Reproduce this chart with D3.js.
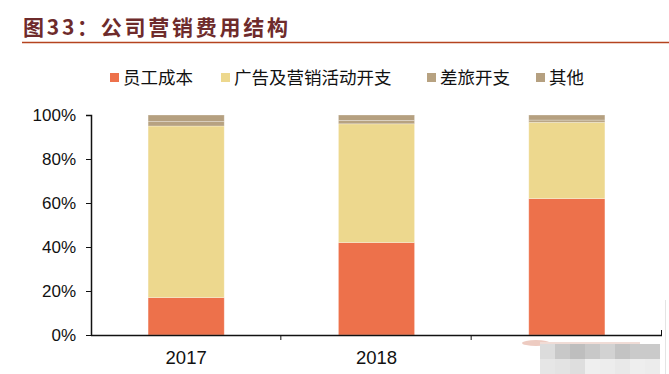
<!DOCTYPE html>
<html>
<head>
<meta charset="utf-8">
<script src="https://cdn.jsdelivr.net/npm/d3@7/dist/d3.min.js"></script>
<style>
  html, body { margin: 0; padding: 0; background: #fff; }
  svg { display: block; }
</style>
</head>
<body>
<svg id="chart" width="669" height="374"></svg>
<script>
// chart data (percent of marketing expense)
var years = ['2017', '2018', '2019'];
var seriesNames = ['员工成本', '广告及营销活动开支', '差旅开支', '其他'];
var staffCost = [17, 42, 62];
var adCost = [78, 54, 34.7];
var travelCost = [2, 1.5, 1];
var otherCost = [3, 2.5, 2.3];
var yTicks = [0, 20, 40, 60, 80, 100];

var colors = ['#ED714B', '#EDD88E', '#B7A281', '#B5A080'];

var svg = d3.select('#chart');
var margin = {left: 91, right: 7, top: 115, bottom: 39};
var width = 669 - margin.left - margin.right;
var height = 374 - margin.top - margin.bottom;

// title + rule
svg.append('text')
  .attr('x', 23)
  .attr('y', 35)
  .attr('textLength', 265)
  .attr('lengthAdjust', 'spacing')
  .style('font-family', '"Noto Sans CJK SC", sans-serif')
  .style('font-weight', 'bold')
  .style('font-size', '21px')
  .style('fill', '#6E2B2B')
  .text('图33：公司营销费用结构');

svg.append('line')
  .attr('x1', 22).attr('x2', 669)
  .attr('y1', 42.5).attr('y2', 42.5)
  .attr('stroke', '#B5431F')
  .attr('stroke-width', 1.3);

// legend
var legendX = [110, 221, 427, 536];
var legend = svg.append('g').selectAll('g')
  .data(seriesNames)
  .enter()
  .append('g')
  .attr('transform', function(d, i) { return 'translate(' + legendX[i] + ',78)'; });

legend.append('rect')
  .attr('x', 0).attr('y', -5)
  .attr('width', 9).attr('height', 9)
  .attr('fill', function(d, i) { return colors[i]; });

legend.append('text')
  .attr('x', 13)
  .attr('y', 6)
  .style('font-family', '"Noto Sans CJK SC", sans-serif')
  .style('font-size', '17.5px')
  .style('fill', '#111')
  .text(function(d) { return d; });

// stack the series
var rows = years.map(function(y, i) {
  return {year: y, s0: staffCost[i], s1: adCost[i], s2: travelCost[i], s3: otherCost[i]};
});
var stack = d3.stack().keys(['s0', 's1', 's2', 's3']);
var layers = stack(rows);

var g = svg.append('g')
  .attr('transform', 'translate(' + margin.left + ',' + margin.top + ')');

var x = d3.scaleBand()
  .domain(years)
  .range([0, width])
  .paddingInner(0.6)
  .paddingOuter(0.3);

var y = d3.scaleLinear()
  .domain([0, 100])
  .range([height, 0]);

g.selectAll('g.layer')
  .data(layers)
  .enter()
  .append('g')
  .attr('class', 'layer')
  .attr('fill', function(d, i) { return colors[i]; })
  .selectAll('rect')
  .data(function(d) { return d; })
  .enter()
  .append('rect')
  .attr('x', function(d) { return x(d.data.year); })
  .attr('width', x.bandwidth())
  .attr('y', function(d) { return y(d[1]); })
  .attr('height', function(d) { return y(d[0]) - y(d[1]); })
  .attr('stroke', 'rgba(255,255,255,0.35)')
  .attr('stroke-width', 0.8);

// y axis
var yAxis = g.append('g')
  .call(d3.axisLeft(y)
    .tickValues(yTicks)
    .tickSize(5)
    .tickFormat(function(d) { return d + '%'; }));

yAxis.select('.domain').attr('d', 'M-5,0.5H0.5V' + (height + 0.5));
yAxis.selectAll('text')
  .attr('x', -15)
  .style('font-family', '"Liberation Sans", Arial, sans-serif')
  .style('font-size', '17px')
  .style('fill', '#111');

// x axis, ticks at band boundaries
var step = width / years.length;
var xAxis = g.append('g')
  .attr('transform', 'translate(0,' + height + ')');

xAxis.append('line')
  .attr('x1', 0).attr('x2', width)
  .attr('y1', 0.5).attr('y2', 0.5)
  .attr('stroke', '#111')
  .attr('stroke-width', 1.5);

xAxis.selectAll('line.tick')
  .data(d3.range(1, years.length + 1))
  .enter()
  .append('line')
  .attr('class', 'tick')
  .attr('x1', function(d) { return d * step - 0.5; })
  .attr('x2', function(d) { return d * step - 0.5; })
  .attr('y1', function(d) { return d === years.length ? -5 : 0; })
  .attr('y2', function(d) { return d === years.length ? 1 : 5; })
  .attr('stroke', '#111');

xAxis.selectAll('text')
  .data(years)
  .enter()
  .append('text')
  .attr('x', function(d) { return x(d) + x.bandwidth() / 2; })
  .attr('y', 29)
  .attr('text-anchor', 'middle')
  .style('font-family', '"Liberation Sans", Arial, sans-serif')
  .style('font-size', '18.5px')
  .style('fill', '#111')
  .text(function(d) { return d; });

yAxis.selectAll('line').attr('stroke', '#111');
yAxis.select('.domain').attr('stroke', '#111').attr('stroke-width', 1.5);

// mosaic watermark over the last label
var mosaicGrays = [
  ['#dcdcdc', '#c8c8c8', '#bebebe', '#c8c8c8', '#d2d2d2', '#c3c3c3', '#cacaca', '#cacaca'],
  ['#e6e6e6', '#e3e3e3', '#dedede', '#efefef', '#ededed', '#e9e9e9', '#eeeeee', '#ececec']
];
svg.append('ellipse')
  .attr('cx', 536).attr('cy', 343)
  .attr('rx', 14).attr('ry', 3)
  .attr('fill', '#e9beb2')
  .attr('opacity', 0.8);
svg.append('rect')
  .attr('x', 540).attr('y', 342)
  .attr('width', 100).attr('height', 2)
  .attr('fill', '#f0dcd6');
var wm = svg.append('g').attr('transform', 'translate(540,344)');
mosaicGrays.forEach(function(row, r) {
  wm.selectAll(null)
    .data(row)
    .enter()
    .append('rect')
    .attr('x', function(d, c) { return c * 15; })
    .attr('y', r * 15)
    .attr('width', 15)
    .attr('height', 15)
    .attr('fill', function(d) { return d; });
});
svg.append('line')
  .attr('x1', 665.5).attr('x2', 665.5)
  .attr('y1', 300).attr('y2', 374)
  .attr('stroke', '#e4e4e4');
</script>
</body>
</html>
